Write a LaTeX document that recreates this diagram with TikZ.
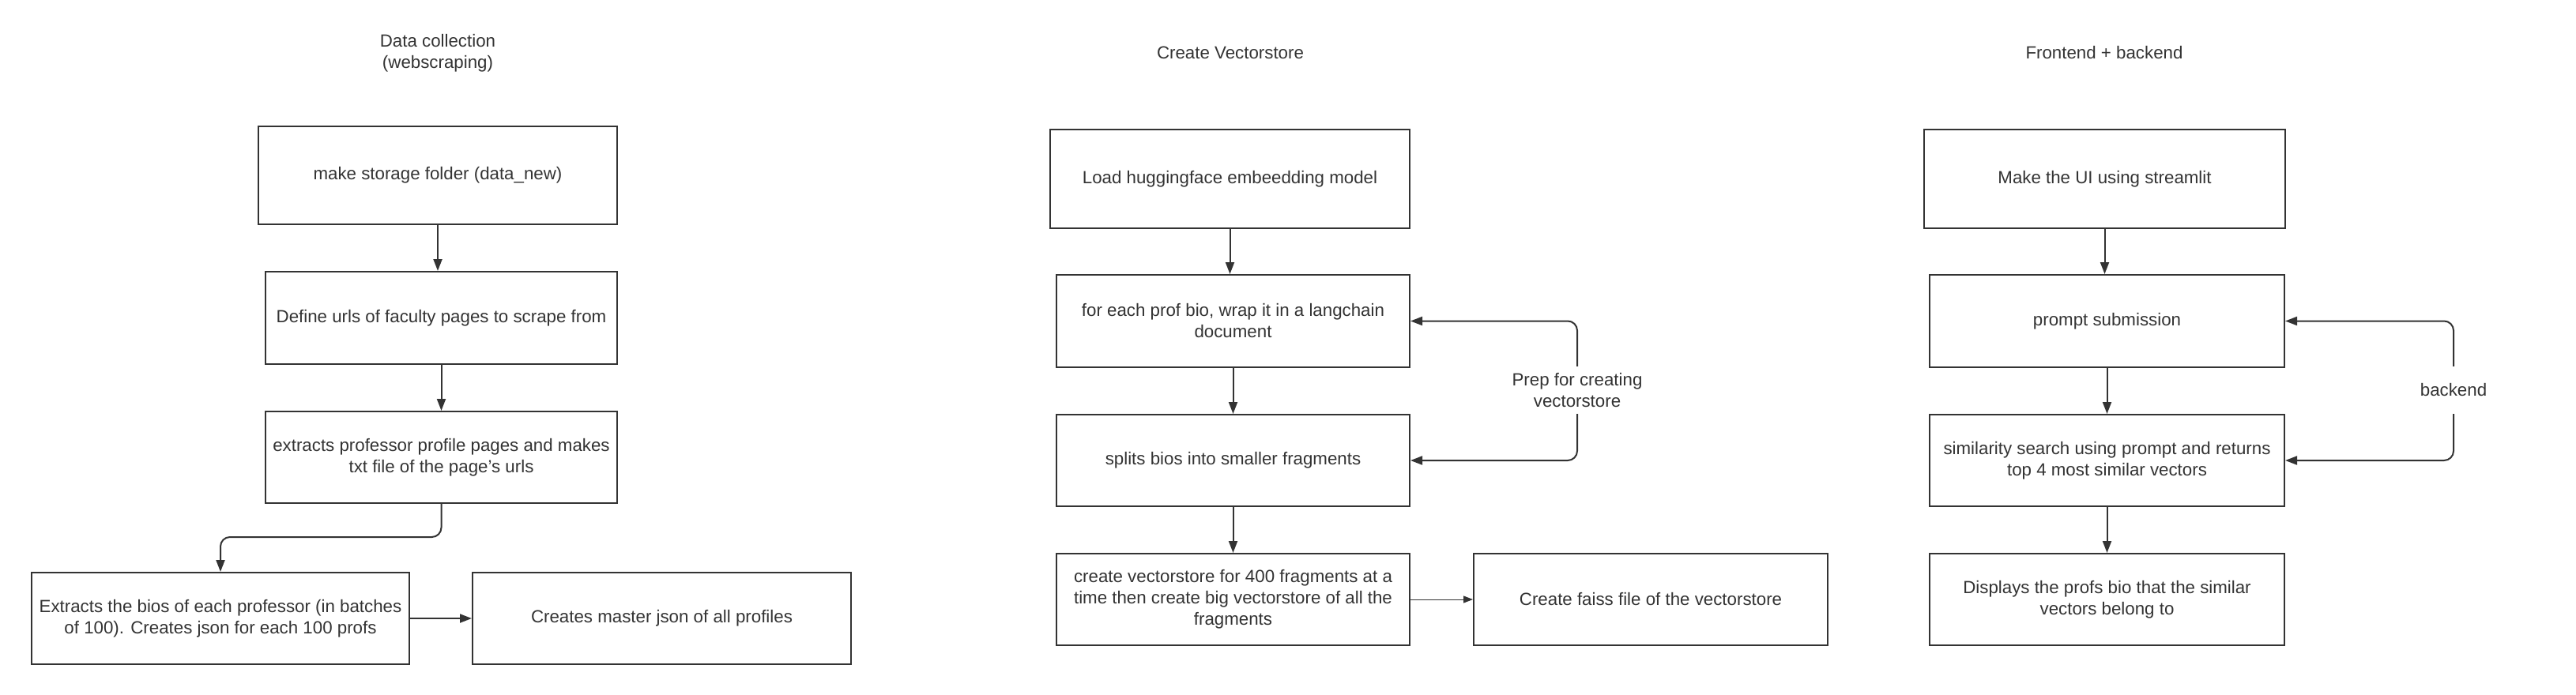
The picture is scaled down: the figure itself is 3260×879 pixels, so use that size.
\documentclass[tikz,border=0pt]{standalone}
\usepackage{fontspec}
\setmainfont{Liberation Sans}
\usetikzlibrary{arrows.meta}
\definecolor{ink}{HTML}{333333}
\begin{document}
\begin{tikzpicture}[x=1pt,y=-1pt,
  every node/.style={font=\fontsize{22.3}{27}\selectfont, text=ink},
  box/.style={draw=ink, line width=2pt, align=center, inner sep=0pt},
  arr/.style={draw=ink, line width=2pt, -{Triangle[length=15pt,width=11pt]}},
  thinarr/.style={draw=ink, line width=1pt, -{Triangle[length=12pt,width=9pt]}},
  lbl/.style={align=center, inner sep=0pt, minimum height=60pt},
  ttl/.style={align=center, inner sep=0pt}
]
\useasboundingbox[fill=white] (0,0) rectangle (3260,879);

% Column 1
\node[ttl] (t1) at (554,67) {Data collection\\(webscraping)};
\node[box, minimum width=454pt, minimum height=124pt] (b1) at (554,222) {make storage folder (data\_new)};
\node[box, minimum width=445pt, minimum height=117pt] (b2) at (558.5,402.5) {Define urls of faculty pages to scrape from};
\node[box, minimum width=445pt, minimum height=116pt] (b3) at (558.5,579) {extracts professor profile pages and makes\\txt file of the page's urls};
\node[box, minimum width=478pt, minimum height=116pt] (b4) at (279,783) {Extracts the bios of each professor (in batches\\of 100). Creates json for each 100 profs};
\node[box, minimum width=479pt, minimum height=116pt] (b5) at (837.5,783) {Creates master json of all profiles};
\coordinate (j1) at (279,680);
\draw[arr] (b1.south) -- (b1.south |- b2.north);
\draw[arr] (b2.south) -- (b3.north);
\draw[arr, rounded corners=12pt] (b3.south) |- (j1) -- (b4.north);
\draw[arr] (b4.east) -- (b5.west);

% Column 2
\node[ttl] (t2) at (1557,67) {Create Vectorstore};
\node[box, minimum width=455pt, minimum height=125pt] (c1) at (1556.5,226.5) {Load huggingface embeedding model};
\node[box, minimum width=447pt, minimum height=117pt] (c2) at (1560.5,406.5) {for each prof bio, wrap it in a langchain\\document};
\node[box, minimum width=447pt, minimum height=116pt] (c3) at (1560.5,583) {splits bios into smaller fragments};
\node[box, minimum width=447pt, minimum height=116pt] (c4) at (1560.5,759) {create vectorstore for 400 fragments at a\\time then create big vectorstore of all the\\fragments};
\node[box, minimum width=448pt, minimum height=116pt] (c5) at (2089,759) {Create faiss file of the vectorstore};
\node[lbl] (p1) at (1996,494) {Prep for creating\\vectorstore};
\draw[arr] (c1.south) -- (c1.south |- c2.north);
\draw[arr] (c2.south) -- (c3.north);
\draw[arr] (c3.south) -- (c4.north);
\draw[thinarr] (c4.east) -- (c5.west);
\draw[arr, rounded corners=12pt] (p1.north) |- (c2.east);
\draw[arr, rounded corners=12pt] (p1.south) |- (c3.east);

% Column 3
\node[ttl] (t3) at (2663,67) {Frontend + backend};
\node[box, minimum width=457pt, minimum height=125pt] (f1) at (2663.5,226.5) {Make the UI using streamlit};
\node[box, minimum width=449pt, minimum height=117pt] (f2) at (2666.5,406.5) {prompt submission};
\node[box, minimum width=449pt, minimum height=116pt] (f3) at (2666.5,583) {similarity search using prompt and returns\\top 4 most similar vectors};
\node[box, minimum width=449pt, minimum height=116pt] (f4) at (2666.5,759) {Displays the profs bio that the similar\\vectors belong to};
\node[lbl] (p2) at (3105,494) {backend};
\draw[arr] (f1.south) -- (f1.south |- f2.north);
\draw[arr] (f2.south) -- (f3.north);
\draw[arr] (f3.south) -- (f4.north);
\draw[arr, rounded corners=12pt] (p2.north) |- (f2.east);
\draw[arr, rounded corners=12pt] (p2.south) |- (f3.east);
\end{tikzpicture}
\end{document}
